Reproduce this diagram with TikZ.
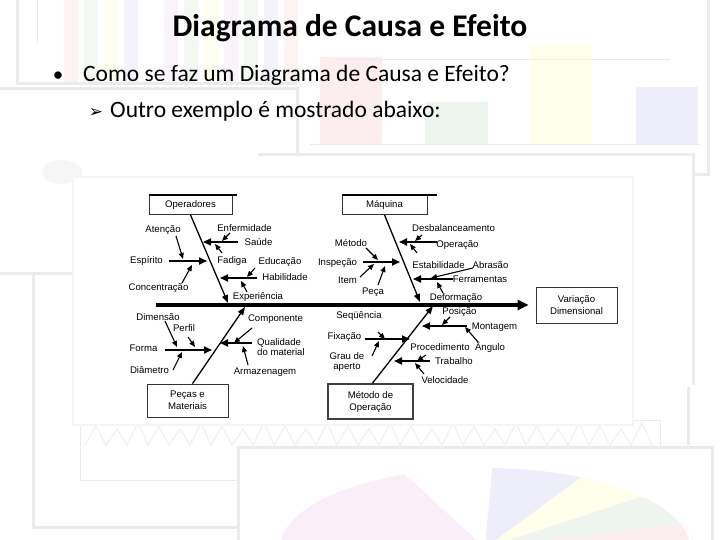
\documentclass[tikz,border=0pt]{standalone}
\usepackage{fontspec}
\setmainfont{Carlito}
\newfontfamily\diagfont{Liberation Sans}
\newfontfamily\symfont{DejaVu Sans}
\usetikzlibrary{arrows.meta,positioning,calc}
\definecolor{panelGray}{HTML}{EBEBEB}
\definecolor{fadeRed}{HTML}{FCEEEE}
\definecolor{fadeGreen}{HTML}{EEF5EE}
\definecolor{fadeYellow}{HTML}{FEFEEA}
\definecolor{fadeBlue}{HTML}{EEEEFA}
\definecolor{fadePink}{HTML}{FAEEF8}

\begin{document}
\begin{tikzpicture}[
            x=1pt, y=-1pt,
            box/.style={
                    rectangle,
                    draw=black!80,
                    line width=0.8pt,
                    fill=white,
                    align=center,
                    inner sep=1pt,
                    font=\diagfont\fontsize{9.6}{12}\selectfont
                },
            lbl/.style={
                    inner sep=0pt,
                    align=left,
                    font=\diagfont\fontsize{9.6}{10.5}\selectfont
                },
            spine/.style={
                    -{Triangle[length=11pt,width=10pt]},
                    line width=3.2pt
                },
            bone/.style={
                    -{Triangle[length=8pt,width=6pt]},
                    line width=1.3pt
                },
            branch/.style={
                    -{Triangle[length=8pt,width=7pt]},
                    line width=1.8pt
                },
            twig/.style={
                    -{Triangle[length=6pt,width=5pt]},
                    line width=1.1pt
                },
            lid/.style={line width=1.8pt},
            panel/.style={draw=panelGray, line width=3pt},
            slideText/.style={inner sep=0pt, anchor=base west, font=\fontsize{23.5}{28}\selectfont}
        ]

        \useasboundingbox (0,0) rectangle (720,540);
        \fill[white] (0,0) rectangle (720,540);

        % Background slides (faded)
        \foreach \c [count=\i] in {fadeRed,fadeGreen,fadeYellow,fadeBlue,white,fadePink,fadeGreen,fadeYellow,fadePink,fadeGreen,fadeBlue,fadeRed}
            \fill[\c!70] ({44+\i*20},0) rectangle ({58+\i*20},82);
        \draw[panel] (17,0) -- (17,84) -- (297,84);
        \draw[panelGray, line width=1pt] (37,0) -- (37,43);

        \fill[fadeRed] (320,57) rectangle (382,145);
        \fill[fadeGreen] (425,102) rectangle (488,145);
        \fill[fadeYellow] (530,45) rectangle (592,145);
        \fill[fadeBlue] (636,87) rectangle (698,145);
        \draw[panelGray, line width=1pt] (310,145) -- (700,145);
        \draw[panelGray, line width=1pt] (330,60) -- (670,60);
        \draw[panel] (708,0) -- (708,175) -- (640,175);

        \draw[panel] (0,89) -- (297,89) -- (297,160);
        \fill[gray!7] (62,172) ellipse [x radius=20, y radius=12];
        \draw[panel] (0,273) -- (73,273);

        \fill[white] (258,155) rectangle (693,385);
        \draw[panel] (258,155) -- (693,155) -- (693,385);

        \draw[panel] (33,273) -- (33,527) -- (238,527);
        \draw[panel] (688,387) -- (688,445);
        \draw[panelGray, line width=0.8pt] (80,420) rectangle (660,480);
        \draw[gray!12, line width=1.2pt] (85,445)
            \foreach \k in {1,...,27} { -- ({85+\k*21-10},{423+mod(\k,3)*3}) -- ({85+\k*21},445) };

        \fill[white] (238,447) rectangle (712,545);
        \draw[panel] (238,545) -- (238,447) -- (712,447) -- (712,545);
        \coordinate (pieCentre) at (485,548);
        \fill[fadePink] (pieCentre) -- ++(-205,0) arc[start angle=-180, end angle=-113, x radius=205, y radius=80] -- cycle;
        \fill[fadeBlue] (pieCentre) -- ++({205*cos(-88)},{80*sin(-88)}) arc[start angle=-88, end angle=-62, x radius=205, y radius=80] -- cycle;
        \fill[fadeYellow] (pieCentre) -- ++({205*cos(-62)},{80*sin(-62)}) arc[start angle=-62, end angle=-40, x radius=205, y radius=80] -- cycle;
        \fill[fadeGreen] (pieCentre) -- ++({205*cos(-40)},{80*sin(-40)}) arc[start angle=-40, end angle=-18, x radius=205, y radius=80] -- cycle;
        \fill[fadeRed] (pieCentre) -- ++({205*cos(-18)},{80*sin(-18)}) arc[start angle=-18, end angle=0, x radius=205, y radius=80] -- cycle;

        % Diagram area
        \filldraw[fill=white, draw=gray!8, line width=1.5pt] (73,177) rectangle (633,425);

        % Title and bullets
        \node[inner sep=0pt, anchor=base, font=\fontsize{31.5}{36}\selectfont\bfseries] (title) at (350,37) {Diagrama de Causa e Efeito};
        \node[inner sep=0pt, anchor=base, font=\fontsize{21}{26}\selectfont] (bulletOne) at (58,82) {•};
        \node[slideText] (questionText) at (83,82) {Como se faz um Diagrama de Causa e Efeito?};
        \node[inner sep=0pt, anchor=base, font=\symfont\fontsize{17}{20}\selectfont] (bulletTwo) at (96,118) {➢};
        \node[slideText] (exampleText) at (110,118) {Outro exemplo é mostrado abaixo:};

        % Category boxes
        \node[box, minimum width=83pt, minimum height=19pt] (operadores) at (190.5,205) {Operadores};
        \node[box, minimum width=85pt, minimum height=19pt] (maquina) at (384.5,205) {Máquina};
        \node[box, minimum width=81pt, minimum height=33pt] (pecas) at (187.5,400.5) {Peças e\\Materiais};
        \node[box, minimum width=85pt, minimum height=35pt, line width=1.8pt, draw=black!75] (metodo) at (370.5,401.5) {Método de\\Operação};
        \node[box, minimum width=81pt, minimum height=36pt] (efeito) at (576.5,305) {Variação\\Dimensional};

        \draw[lid] (operadores.north west) -- ([xshift=5pt]operadores.north east);
        \draw[lid] (maquina.north west) -- ([xshift=10pt]maquina.north east);

        % Spine and main bones
        \coordinate (spineTail) at (156,305);
        \coordinate (operTip) at (228,303);
        \coordinate (maqTip) at (420,302);
        \coordinate (pecasTip) at (245,307);
        \coordinate (metodoTip) at (433,306);

        \draw[spine, shorten >=7pt] (spineTail) -- (efeito.west);
        \draw[bone] (operadores.south) -- (operTip);
        \draw[bone] (maquina.south) -- (maqTip);
        \draw[bone] ([xshift=5pt]pecas.north) -- (pecasTip);
        \draw[bone] ([xshift=2pt]metodo.north) -- (metodoTip);

        % Operadores
        \node[lbl] (lblEnferm) at (244.5,228) {Enfermidade};
        \node[lbl] (lblSaude) at (258.5,242.5) {Saúde};
        \node[lbl] (lblFadiga) at (232,261.5) {Fadiga};
        \node[lbl] (lblEspirito) at (146.5,261) {Espírito};
        \node[lbl] (lblAtencao) at (163,230) {Atenção};
        \node[lbl] (lblConcentr) at (158.5,288) {Concentração};
        \node[lbl] (lblHabil) at (285,277.5) {Habilidade};
        \node[lbl] (lblEduc) at (280,262) {Educação};
        \node[lbl] (lblExper) at (258,297) {Experiência};

        \path (238,242) coordinate (saudeA) (203,242) coordinate (saudeB)
              (169,261) coordinate (espiritoA) (207,261) coordinate (espiritoB)
              (257,278) coordinate (habilA) (220,278) coordinate (habilB)
              (230,233) coordinate (enfermA) (222,241) coordinate (enfermB)
              (222,253) coordinate (fadigaA) (215,244) coordinate (fadigaB)
              (176,236) coordinate (atencaoA) (183,259) coordinate (atencaoB)
              (182,283) coordinate (concentrA) (192,265) coordinate (concentrB)
              (255,268) coordinate (educA) (247,277) coordinate (educB)
              (247,292) coordinate (experA) (241,281) coordinate (experB);

        \draw[branch] (saudeA) -- (saudeB);
        \draw[branch] (espiritoA) -- (espiritoB);
        \draw[branch] (habilA) -- (habilB);
        \draw[twig] (enfermA) -- (enfermB);
        \draw[twig] (fadigaA) -- (fadigaB);
        \draw[twig] (atencaoA) -- (atencaoB);
        \draw[twig] (concentrA) -- (concentrB);
        \draw[twig] (educA) -- (educB);
        \draw[twig] (experA) -- (experB);

        % Maquina
        \node[lbl] (lblDesbal) at (453.5,228) {Desbalanceamento};
        \node[lbl] (lblOperacao) at (457.5,245) {Operação};
        \node[lbl] (lblEstab) at (438.5,265) {Estabilidade};
        \node[lbl] (lblAbrasao) at (490.5,265) {Abrasão};
        \node[lbl] (lblFerram) at (480,279) {Ferramentas};
        \node[lbl] (lblDeform) at (456,298) {Deformação};
        \node[lbl] (lblMetodo) at (351,243) {Método};
        \node[lbl] (lblInspecao) at (337.5,263) {Inspeção};
        \node[lbl] (lblItem) at (347.5,280) {Item};
        \node[lbl] (lblPeca) at (373,292) {Peça};

        \path (437,242) coordinate (operacaoA) (399,242) coordinate (operacaoB)
              (363,262) coordinate (inspecaoA) (400,262) coordinate (inspecaoB)
              (453,279) coordinate (ferramA) (413,279) coordinate (ferramB)
              (422,235) coordinate (desbalA) (415,241) coordinate (desbalB)
              (417,253) coordinate (estabA) (410,244) coordinate (estabB)
              (366,248) coordinate (metodoA) (378,260) coordinate (metodoB)
              (360,277) coordinate (itemA) (374,264) coordinate (itemB)
              (378,285) coordinate (pecaA) (385,266) coordinate (pecaB)
              (473,268) coordinate (abrasaoA) (431,278) coordinate (abrasaoB)
              (443,293) coordinate (deformA) (437,282) coordinate (deformB);

        \draw[branch] (operacaoA) -- (operacaoB);
        \draw[branch] (inspecaoA) -- (inspecaoB);
        \draw[branch] (ferramA) -- (ferramB);
        \draw[twig] (desbalA) -- (desbalB);
        \draw[twig] (estabA) -- (estabB);
        \draw[twig] (metodoA) -- (metodoB);
        \draw[twig] (itemA) -- (itemB);
        \draw[twig] (pecaA) -- (pecaB);
        \draw[twig] (abrasaoA) -- (abrasaoB);
        \draw[twig] (deformA) -- (deformB);

        % Pecas e Materiais
        \node[lbl] (lblDimensao) at (158,317) {Dimensão};
        \node[lbl] (lblPerfil) at (184,328) {Perfil};
        \node[lbl] (lblForma) at (143.5,348) {Forma};
        \node[lbl] (lblDiametro) at (149.5,370) {Diâmetro};
        \node[lbl] (lblComponente) at (275.5,319) {Componente};
        \node[lbl, anchor=west] (lblQualidade) at (257,347) {Qualidade\\do material};
        \node[lbl] (lblArmazen) at (265,372) {Armazenagem};

        \path (165,350) coordinate (formaA) (212,350) coordinate (formaB)
              (252,343) coordinate (qualidadeA) (220,343) coordinate (qualidadeB)
              (165,321) coordinate (dimensaoA) (177,347) coordinate (dimensaoB)
              (188,337) coordinate (perfilA) (195,347) coordinate (perfilB)
              (173,370) coordinate (diametroA) (182,352) coordinate (diametroB)
              (252,328) coordinate (componenteA) (234,343) coordinate (componenteB)
              (248,365) coordinate (armazenA) (243,346) coordinate (armazenB);

        \draw[branch] (formaA) -- (formaB);
        \draw[branch] (qualidadeA) -- (qualidadeB);
        \draw[twig] (dimensaoA) -- (dimensaoB);
        \draw[twig] (perfilA) -- (perfilB);
        \draw[twig] (diametroA) -- (diametroB);
        \draw[twig] (componenteA) -- (componenteB);
        \draw[twig] (armazenA) -- (armazenB);

        % Metodo de Operacao
        \node[lbl] (lblSequencia) at (359,316) {Seqüência};
        \node[lbl] (lblFixacao) at (344.5,337) {Fixação};
        \node[lbl, align=center] (lblGrau) at (347,362) {Grau de\\aperto};
        \node[lbl] (lblPosicao) at (459.5,312) {Posição};
        \node[lbl] (lblMontagem) at (494.5,327) {Montagem};
        \node[lbl] (lblAngulo) at (490,347) {Ângulo};
        \node[lbl] (lblProced) at (440,347) {Procedimento};
        \node[lbl] (lblTrabalho) at (454,361) {Trabalho};
        \node[lbl] (lblVelocid) at (445,380) {Velocidade};

        \path (365,339) coordinate (fixacaoA) (410,339) coordinate (fixacaoB)
              (467,326) coordinate (montagemA) (422,326) coordinate (montagemB)
              (430,361) coordinate (trabalhoA) (394,361) coordinate (trabalhoB)
              (378,332) coordinate (sequenciaA) (385,339) coordinate (sequenciaB)
              (372,356) coordinate (grauA) (379,341) coordinate (grauB)
              (450,317) coordinate (posicaoA) (442,325) coordinate (posicaoB)
              (478,342) coordinate (anguloA) (465,327) coordinate (anguloB)
              (426,355) coordinate (procedA) (417,361) coordinate (procedB)
              (424,374) coordinate (velocidA) (415,363) coordinate (velocidB);

        \draw[branch] (fixacaoA) -- (fixacaoB);
        \draw[branch] (montagemA) -- (montagemB);
        \draw[branch] (trabalhoA) -- (trabalhoB);
        \draw[twig] (sequenciaA) -- (sequenciaB);
        \draw[twig] (grauA) -- (grauB);
        \draw[twig] (posicaoA) -- (posicaoB);
        \draw[twig] (anguloA) -- (anguloB);
        \draw[twig] (procedA) -- (procedB);
        \draw[twig] (velocidA) -- (velocidB);

    \end{tikzpicture}
\end{document}
